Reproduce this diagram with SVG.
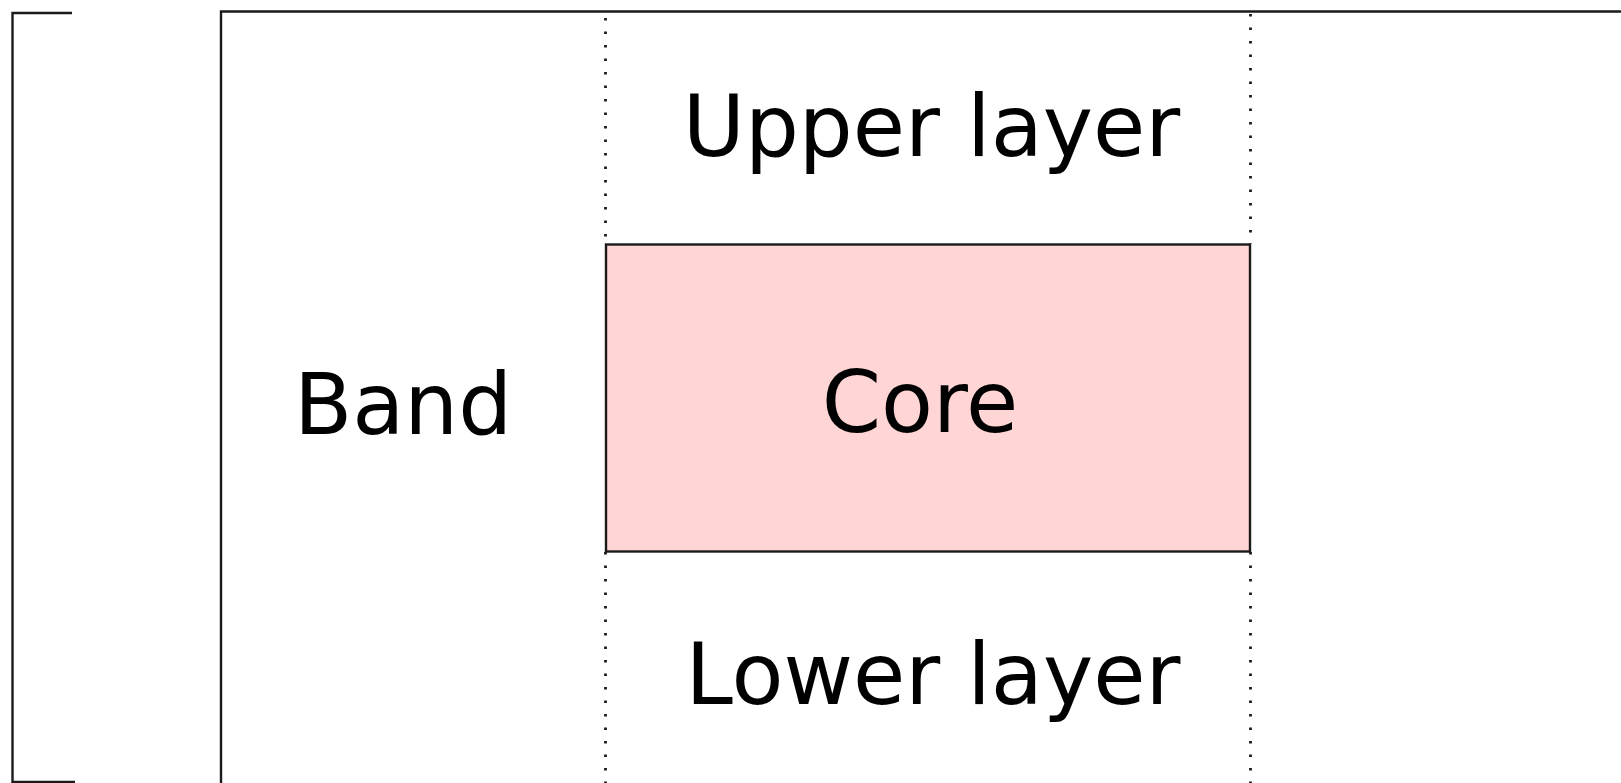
<svg xmlns="http://www.w3.org/2000/svg" width="1621" height="783" viewBox="0 0 1621 783">
<style>
.lbl{font-family:"DejaVu Sans",sans-serif;font-size:85px;fill:#000;text-anchor:middle}
.frame{fill:none;stroke:#1a1a1a;stroke-width:2.4}
.dot{fill:none;stroke:#1a1a1a;stroke-width:2.8;stroke-dasharray:2.6 10.9}
</style>
<rect width="1621" height="783" fill="#fff"/>
<g id="bracket"><path class="frame" d="M72 13 H12.5 V782 H75"/></g>
<g id="band"><path class="frame" d="M221 790 V11.5 H1630"/><text class="lbl" x="403" y="434" font-size="86">Band</text></g>
<g id="guides">
<line class="dot" x1="605.5" y1="18" x2="605.5" y2="244"/>
<line class="dot" x1="1250.5" y1="14" x2="1250.5" y2="244"/>
<line class="dot" x1="605.5" y1="552" x2="605.5" y2="783"/>
<line class="dot" x1="1250.5" y1="552" x2="1250.5" y2="783"/>
</g>
<g id="upper"><text class="lbl" x="931.5" y="156">Upper layer</text></g>
<g id="core"><rect x="606" y="244.5" width="644" height="307" fill="#ffd5d5" stroke="#1a1a1a" stroke-width="2.4"/><text class="lbl" x="920" y="432" font-size="86">Core</text></g>
<g id="lower"><text class="lbl" x="933" y="704">Lower layer</text></g>
</svg>
